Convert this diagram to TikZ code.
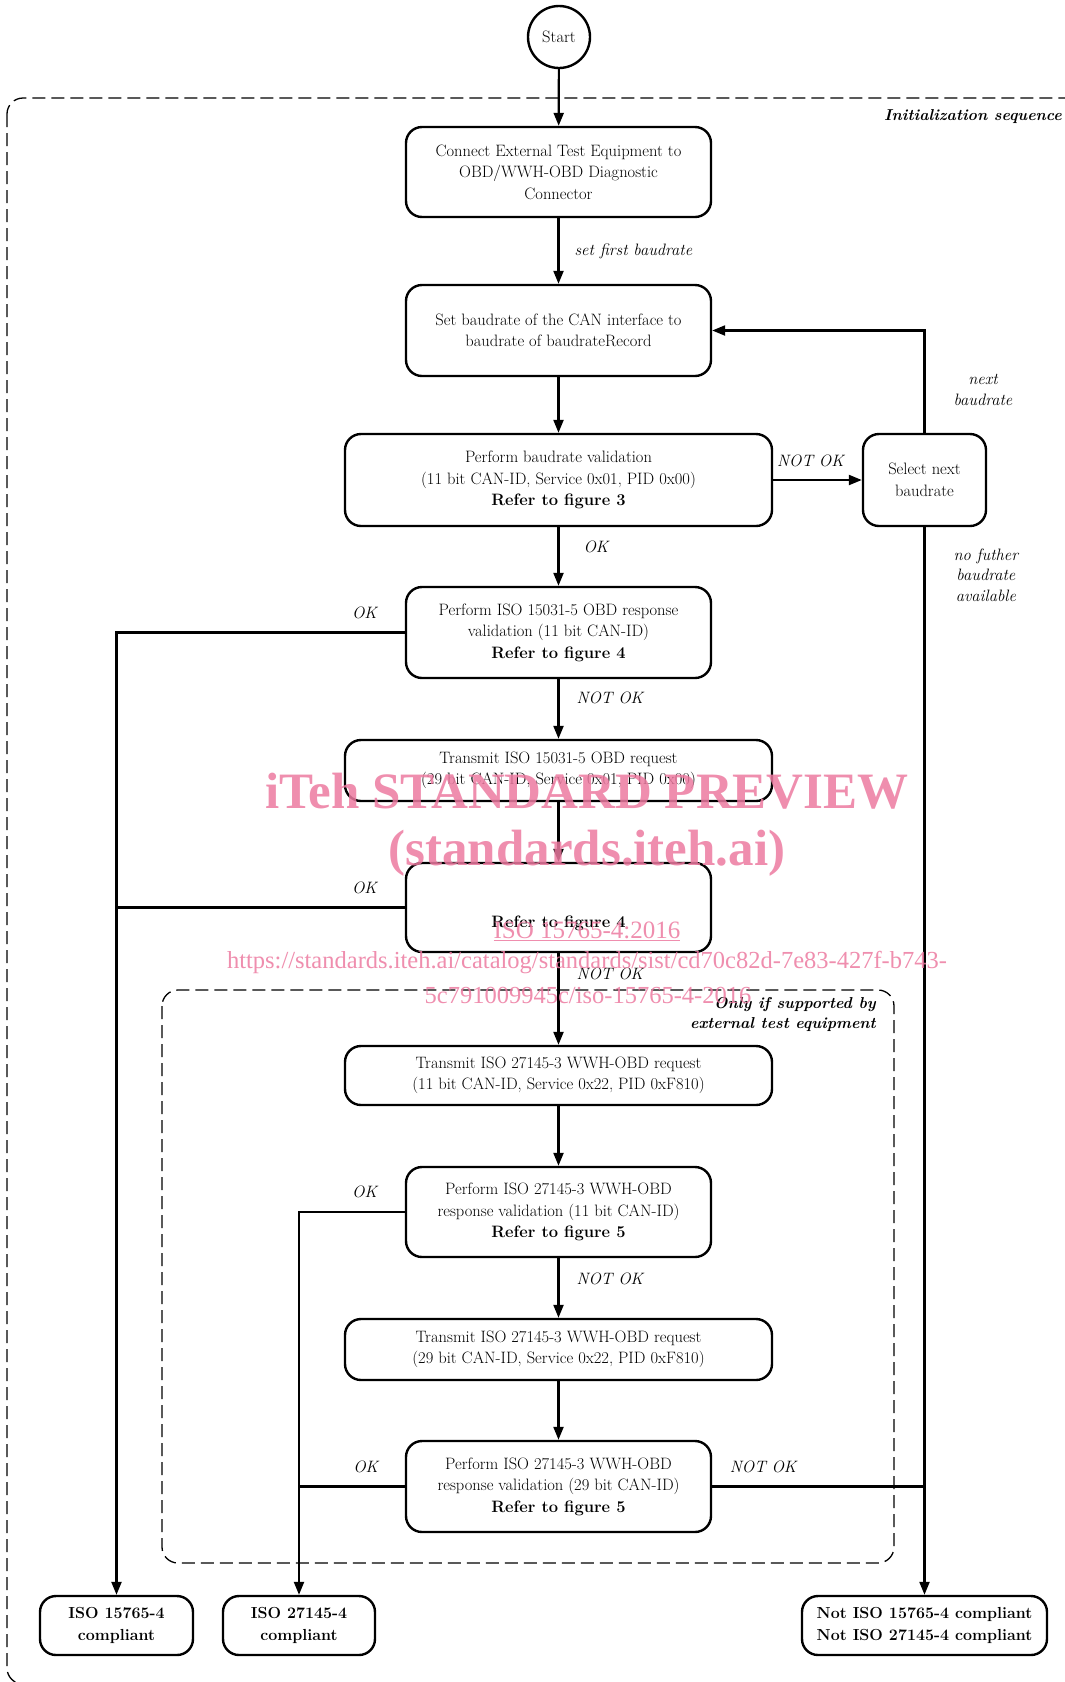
\documentclass[tikz,border=0pt]{standalone}
\usepackage{fontspec}
\usetikzlibrary{arrows.meta}
\newfontfamily\wmfont{Liberation Serif}
\definecolor{wmpink}{RGB}{236,122,160}

\begin{document}
\begin{tikzpicture}[x=1pt,y=-1pt]
    \tikzstyle{every node}=[font=\fontsize{16.5}{21.5}\selectfont]
    \tikzstyle{box}=[draw, line width=2.4pt, rounded corners=16pt, align=center, inner sep=0pt]
    \tikzstyle{endbox}=[box, font=\fontsize{16}{22}\selectfont\bfseries, minimum height=59pt]
    \tikzstyle{lbl}=[font=\fontsize{16.5}{20.5}\selectfont\itshape, inner sep=2pt, align=center]
    \tikzstyle{grouplbl}=[font=\fontsize{15.8}{20.5}\selectfont\bfseries\itshape, inner sep=0pt, align=right]
    \tikzstyle{arr}=[line width=2.2pt, -{Triangle[length=13pt,width=10pt]}]
    \tikzstyle{wire}=[line width=2.2pt]
    \tikzstyle{group}=[line width=1.3pt, dash pattern=on 13pt off 6pt, rounded corners=16pt]
    \tikzstyle{wm}=[text=wmpink, opacity=0.85, inner sep=0pt]
    \def\wn{305pt}
    \def\ww{427pt}
    \def\cx{558.5}
    \useasboundingbox (0,0) rectangle (1065,1682);
    % Dashed groups
    \draw[group] (7,98) rectangle (1090,1684);
    \draw[group] (162,990) rectangle (894,1563);
    \node[grouplbl, anchor=east] (initlbl) at (1062,117) {Initialization sequence};
    \node[grouplbl, anchor=north east] (optlbl) at (876,997) {Only if supported by\\external test equipment};
    % Steps
    \node[draw, circle, line width=2.4pt, minimum size=62pt, inner sep=0pt] (start) at (559,37) {Start};
    \node[box, minimum width=\wn, minimum height=90pt] (connect) at (\cx,172)
        {Connect External Test Equipment to\\OBD/WWH-OBD Diagnostic\\Connector};
    \node[box, minimum width=\wn, minimum height=91pt] (setbaud) at (\cx,330.5)
        {Set baudrate of the CAN interface to\\baudrate of baudrateRecord};
    \node[box, minimum width=\ww, minimum height=92pt] (validate) at (\cx,480)
        {Perform baudrate validation\\(11 bit CAN-ID, Service 0x01, PID 0x00)\\\textbf{Refer to figure 3}};
    \node[box, minimum width=123pt, minimum height=92pt] (select) at (924.5,480) {Select next\\baudrate};
    \node[box, minimum width=\wn, minimum height=91pt] (resp11) at (\cx,632.5)
        {Perform ISO 15031-5 OBD response\\validation (11 bit CAN-ID)\\\textbf{Refer to figure 4}};
    \node[box, minimum width=\ww, minimum height=61pt] (req29) at (\cx,770.5)
        {Transmit ISO 15031-5 OBD request\\(29 bit CAN-ID, Service 0x01, PID 0x00)};
    \node[box, minimum width=\wn, minimum height=89pt] (resp29) at (\cx,907.5)
        {\mbox{}\\\mbox{}\\\textbf{Refer to figure 4}};
    \node[box, minimum width=\ww, minimum height=59pt] (wreq11) at (\cx,1075.5)
        {Transmit ISO 27145-3 WWH-OBD request\\(11 bit CAN-ID, Service 0x22, PID 0xF810)};
    \node[box, minimum width=\wn, minimum height=90pt] (wresp11) at (\cx,1212)
        {Perform ISO 27145-3 WWH-OBD\\response validation (11 bit CAN-ID)\\\textbf{Refer to figure 5}};
    \node[box, minimum width=\ww, minimum height=61pt] (wreq29) at (\cx,1349.5)
        {Transmit ISO 27145-3 WWH-OBD request\\(29 bit CAN-ID, Service 0x22, PID 0xF810)};
    \node[box, minimum width=\wn, minimum height=91pt] (wresp29) at (\cx,1486.5)
        {Perform ISO 27145-3 WWH-OBD\\response validation (29 bit CAN-ID)\\\textbf{Refer to figure 5}};
    % Results
    \node[endbox, minimum width=153pt] (iso15765) at (116.5,1625.5) {ISO 15765-4\\compliant};
    \node[endbox, minimum width=152pt] (iso27145) at (299,1625.5) {ISO 27145-4\\compliant};
    \node[endbox, minimum width=245pt] (notiso) at (924.5,1625.5) {Not ISO 15765-4 compliant\\Not ISO 27145-4 compliant};
    % Draw the connectors
    \draw[arr] (start) -- (connect);
    \draw[arr] (connect) -- node[lbl, right=13pt] {set first baudrate} (setbaud);
    \draw[arr] (setbaud) -- (validate);
    \draw[arr] (validate) -- node[lbl, above=10pt, pos=0.42] {NOT OK} (select);
    \draw[arr] (select.north) |- node[lbl, right=26pt, pos=0.21] {next\\baudrate} (setbaud.east);
    \draw[arr] (select.south) -- node[lbl, right=26pt, pos=0.045] {no futher\\baudrate\\available} (notiso.north);
    \draw[arr] (validate) -- node[lbl, right=22pt, pos=0.33] {OK} (resp11);
    \draw[arr] (resp11.west) -| node[lbl, above=11pt, pos=0.07] {OK} (iso15765.north);
    \draw[arr] (resp11) -- node[lbl, right=15pt, pos=0.32] {NOT OK} (req29);
    \draw[arr] (req29) -- (resp29);
    \draw[wire] (resp29.west) -- node[lbl, above=11pt, pos=0.14] {OK} (resp29.west -| iso15765.north);
    \draw[arr] (resp29) -- node[lbl, right=15pt, pos=0.22] {NOT OK} (wreq11);
    \draw[arr] (wreq11) -- (wresp11);
    \draw[arr] (wresp11.west) -| node[lbl, above=11pt, pos=0.19] {OK} (iso27145.north);
    \draw[arr] (wresp11) -- node[lbl, right=15pt, pos=0.34] {NOT OK} (wreq29);
    \draw[arr] (wreq29) -- (wresp29);
    \draw[wire] (wresp29.west) -- node[lbl, above=11pt, pos=0.37] {OK} (wresp29.west -| iso27145.north);
    \draw[wire] (wresp29.east) -- node[lbl, above=11pt, pos=0.24] {NOT OK} (wresp29.east -| notiso.north);
    % Watermark
    \node[wm, font=\wmfont\bfseries\fontsize{51}{52}\selectfont] (wmtitle) at (587,791) {iTeh STANDARD PREVIEW};
    \node[wm, font=\wmfont\bfseries\fontsize{51}{52}\selectfont] (wmsite) at (587,853) {(standards.iteh.ai)};
    \node[wm, font=\wmfont\fontsize{25}{26}\selectfont] (wmstd) at (587,931) {\underline{ISO 15765-4:2016}};
    \node[wm, font=\wmfont\fontsize{24.5}{26}\selectfont] (wmurl) at (587,963) {https://standards.iteh.ai/catalog/standards/sist/cd70c82d-7e83-427f-b743-};
    \node[wm, font=\wmfont\fontsize{24.5}{26}\selectfont] (wmid) at (588,995) {5c791009945c/iso-15765-4-2016};
\end{tikzpicture}
\end{document}
